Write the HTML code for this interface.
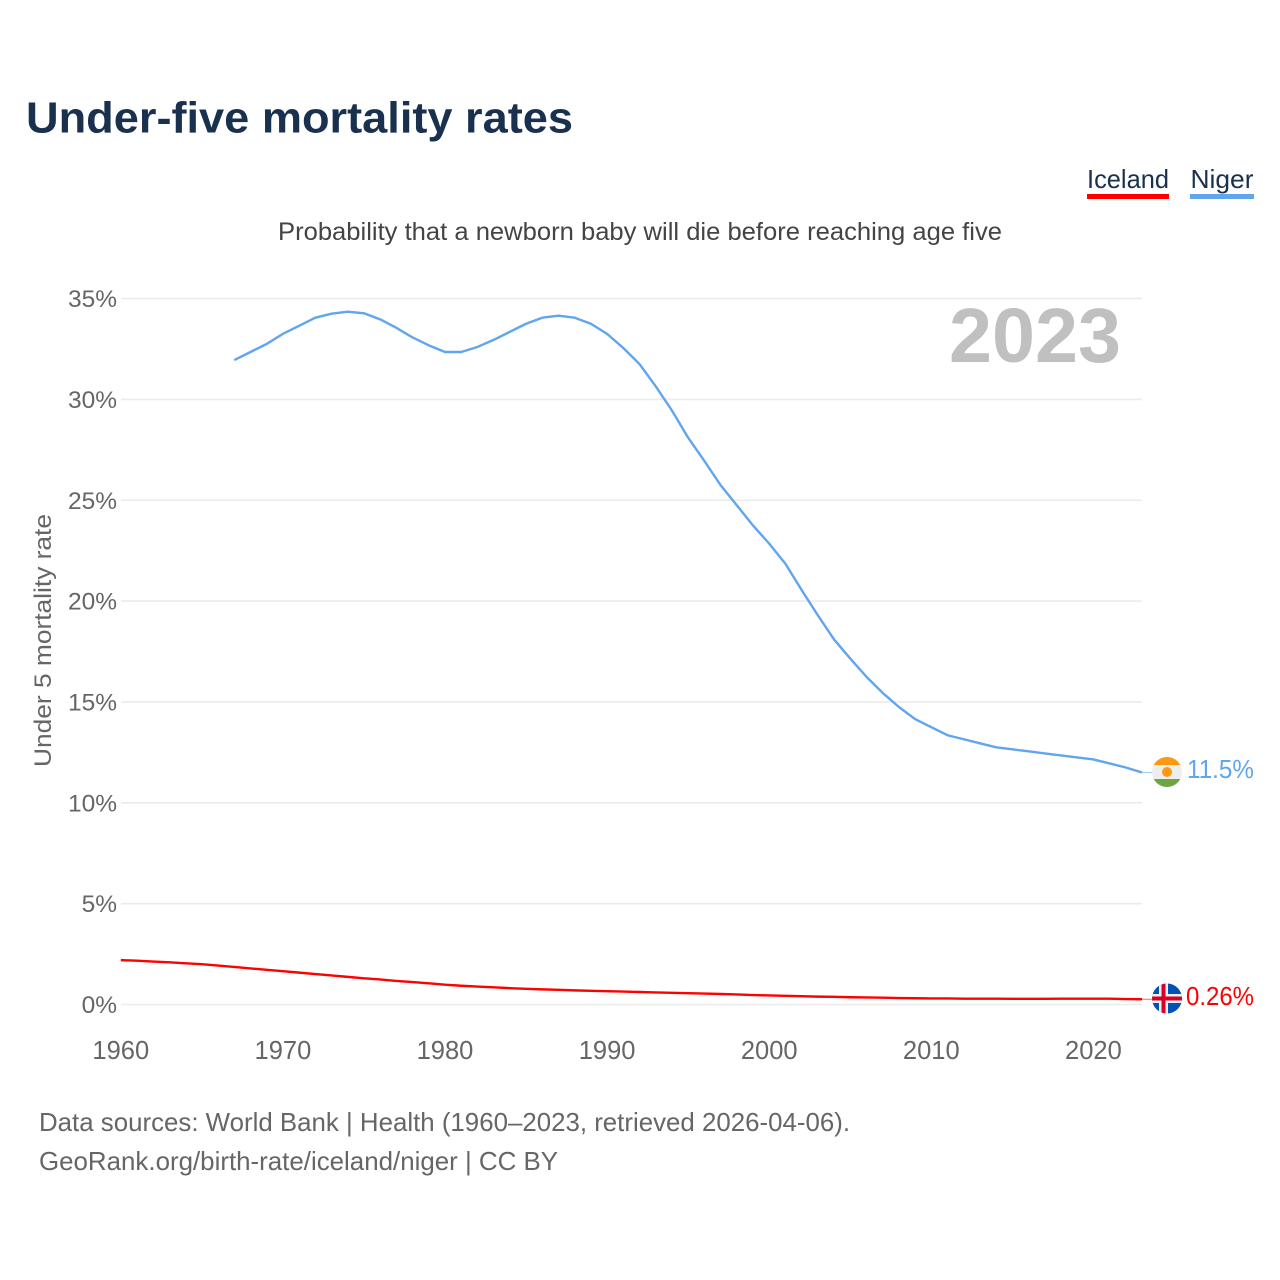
<!DOCTYPE html>
<html lang="en">
<head>
<meta charset="utf-8">
<title>Under-five mortality rates</title>
<style>
html,body{margin:0;padding:0;background:#fff;width:1280px;height:1280px;overflow:hidden}
svg{display:block}
text{font-family:"Liberation Sans",sans-serif}
</style>
</head>
<body>
<svg id="chart" width="1280" height="1280" viewBox="0 0 1280 1280" xmlns="http://www.w3.org/2000/svg">
  <rect width="1280" height="1280" fill="#ffffff"/>
  <text x="26" y="132.500" font-size="44" font-weight="700" fill="#19304f" textLength="547" lengthAdjust="spacingAndGlyphs">Under-five mortality rates</text>
  <text x="278" y="240" font-size="25" fill="#444444" textLength="724" lengthAdjust="spacingAndGlyphs">Probability that a newborn baby will die before reaching age five</text>

  <g>
    <g>
      <text x="1087" y="188" font-size="26" fill="#19304f" textLength="82" lengthAdjust="spacingAndGlyphs">Iceland</text>
      <rect x="1087" y="194" width="82" height="5" fill="#ff0000"/>
    </g>
    <g>
      <text x="1190.500" y="188" font-size="26" fill="#19304f" textLength="63" lengthAdjust="spacingAndGlyphs">Niger</text>
      <rect x="1190" y="194" width="64" height="5" fill="#60a5ed"/>
    </g>
  </g>

  <g id="grid"></g>
  <g id="yticks"></g>
  <g id="xticks"></g>
  <text transform="translate(51,767) rotate(-90)" font-size="24.500" fill="#666666" textLength="253" lengthAdjust="spacingAndGlyphs">Under 5 mortality rate</text>
  <text x="949" y="362" font-size="77" font-weight="700" fill="#c0c0c0" textLength="172" lengthAdjust="spacingAndGlyphs">2023</text>

  <g id="series"></g>

  <defs>
    <clipPath id="flag-niger-clip"><circle cx="1167" cy="772" r="15"/></clipPath>
    <clipPath id="flag-iceland-clip"><circle cx="1167" cy="998.500" r="15"/></clipPath>
  </defs>

  <g clip-path="url(#flag-niger-clip)">
    <rect x="1152" y="757" width="30" height="30" fill="#eeeeee"/>
    <rect x="1152" y="757" width="30" height="8" fill="#ff9811"/>
    <rect x="1152" y="779" width="30" height="8" fill="#6da544"/>
    <circle cx="1167" cy="772" r="5" fill="#ff9811"/>
  </g>
  <text x="1187" y="778" font-size="26" fill="#60a5ed" textLength="67" lengthAdjust="spacingAndGlyphs">11.5%</text>

  <g clip-path="url(#flag-iceland-clip)">
    <rect x="1152" y="983.500" width="30" height="30" fill="#0052b4"/>
    <rect x="1152" y="994" width="30" height="9" fill="#f0f0f0"/>
    <rect x="1159" y="983.500" width="9" height="30" fill="#f0f0f0"/>
    <rect x="1152" y="996.500" width="30" height="4" fill="#d80027"/>
    <rect x="1161.500" y="983.500" width="4" height="30" fill="#d80027"/>
  </g>
  <text x="1186" y="1005" font-size="26" fill="#ff0000" textLength="68" lengthAdjust="spacingAndGlyphs">0.26%</text>

  <text x="39" y="1131" font-size="26" fill="#666666" textLength="811" lengthAdjust="spacingAndGlyphs">Data sources: World Bank | Health (1960–2023, retrieved 2026-04-06).</text>
  <text x="39" y="1170" font-size="26" fill="#666666" textLength="519" lengthAdjust="spacingAndGlyphs">GeoRank.org/birth-rate/iceland/niger | CC BY</text>
</svg>
<script>
const yTickValues = [0, 5, 10, 15, 20, 25, 30, 35];
const xTickValues = [1960, 1970, 1980, 1990, 2000, 2010, 2020];
const icelandStartYear = 1960;
const icelandValues = [2.2,2.17,2.13,2.09,2.04,2.0,1.93,1.86,1.79,1.72,1.65,1.58,1.51,1.44,1.37,1.3,1.24,1.17,1.11,1.05,0.98,0.93,0.89,0.85,0.81,0.78,0.75,0.73,0.7,0.68,0.66,0.64,0.62,0.6,0.58,0.56,0.54,0.52,0.5,0.47,0.45,0.43,0.41,0.39,0.38,0.36,0.35,0.34,0.32,0.31,0.3,0.3,0.29,0.29,0.29,0.28,0.28,0.28,0.29,0.29,0.29,0.29,0.27,0.26];
const nigerStartYear = 1967;
const nigerValues = [31.95,32.35,32.75,33.25,33.65,34.05,34.25,34.35,34.27,33.97,33.55,33.07,32.68,32.35,32.35,32.6,32.95,33.35,33.75,34.05,34.15,34.05,33.75,33.25,32.55,31.75,30.65,29.45,28.1,26.95,25.75,24.75,23.75,22.85,21.85,20.55,19.3,18.1,17.15,16.25,15.45,14.75,14.15,13.75,13.35,13.15,12.95,12.75,12.65,12.55,12.45,12.35,12.25,12.15,11.95,11.75,11.5];

const svgNS = 'http://www.w3.org/2000/svg';
function xScale(year) { return 120.8 + (year - 1960) * 16.21; }
function yScale(value) { return 1004.5 - value * 20.17; }

function make(tag, attrs, parent) {
  const el = document.createElementNS(svgNS, tag);
  Object.keys(attrs).forEach(function (k) { el.setAttribute(k, attrs[k]); });
  parent.appendChild(el);
  return el;
}

const gridGroup = document.getElementById('grid');
const yGroup = document.getElementById('yticks');
yTickValues.forEach(function (v) {
  const line = make('line', { x1: 121, x2: 1142, y1: yScale(v), y2: yScale(v), stroke: '#ebebeb', 'stroke-width': 1.6 }, gridGroup);
  
  
  const label = make('text', { x: 117, y: yScale(v) + 8.5, 'text-anchor': 'end', 'font-size': 24.5, fill: '#666666' }, yGroup);
  
  
  label.textContent = v + '%';
});

const xGroup = document.getElementById('xticks');
xTickValues.forEach(function (y) {
  const label = make('text', { x: xScale(y), y: 1059, 'text-anchor': 'middle', 'font-size': 25.5, fill: '#666666' }, xGroup);
  
  
  label.textContent = y;
});

const seriesGroup = document.getElementById('series');
function drawSeries(values, startYear, color, name) {
  const pts = values.map(function (v, i) { return xScale(startYear + i).toFixed(2) + ',' + yScale(v).toFixed(2); });
  const lastY = yScale(values[values.length - 1]);
  const lastX = xScale(startYear + values.length - 1);
  const connector = make('line', { x1: lastX, x2: 1153, y1: lastY, y2: lastY, stroke: color, 'stroke-width': 1, opacity: 0.6 }, seriesGroup);
  
  
  const line = make('polyline', { points: pts.join(' '), fill: 'none', stroke: color, 'stroke-width': 2.4, 'stroke-linejoin': 'round' }, seriesGroup);
  
  
}
drawSeries(nigerValues, nigerStartYear, '#60a5ed', 'niger');
drawSeries(icelandValues, icelandStartYear, '#ff0000', 'iceland');
</script>
</body>
</html>
